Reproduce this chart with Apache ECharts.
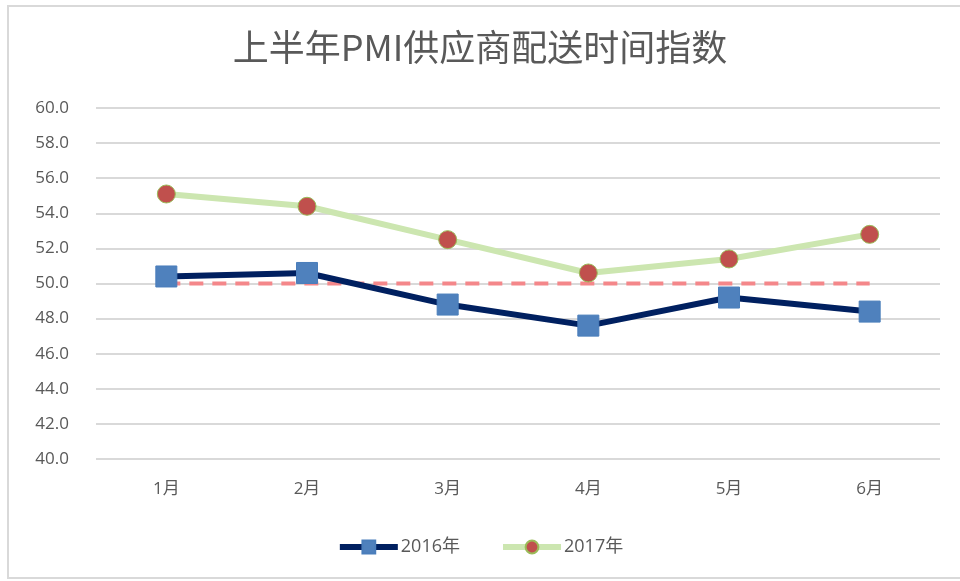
<!DOCTYPE html>
<html><head><meta charset="utf-8">
<script src="https://cdn.jsdelivr.net/npm/echarts@6/dist/echarts.min.js"></script>
<style>html,body{margin:0;padding:0;background:#fff}#c{width:960px;height:581px}</style>
</head><body><div id="c"></div>
<script>
const categories = ['1月','2月','3月','4月','5月','6月'];
const series2016 = [50.4, 50.6, 48.8, 47.6, 49.2, 48.4];
const series2017 = [55.1, 54.4, 52.5, 50.6, 51.4, 52.8];
const threshold = [50, 50, 50, 50, 50, 50];
const titleText = '上半年PMI供应商配送时间指数';
const font = '"Open Sans","Noto Sans CJK SC",sans-serif';
const chart = echarts.init(document.getElementById('c'));
chart.setOption({
  backgroundColor: '#fff',
  animation: false,
  graphic: [{type:'rect', shape:{x:8,y:6,width:970,height:572}, style:{fill:'none', stroke:'#d9d9d9', lineWidth:2}, silent:true}],
  title: {text: titleText, left: 'center', top: 24, textStyle:{fontSize:36, fontWeight:'normal', color:'#595959', fontFamily:'"Noto Sans CJK SC",sans-serif'}},
  legend: {bottom: 20, left: 'center', itemWidth: 58, itemHeight: 16, itemGap: 40, textStyle:{fontSize:18, color:'#595959', fontFamily:font, padding:[0,0,0,-2]},
    data:[{name:'2016年', lineStyle:{width:6}}, {name:'2017年', lineStyle:{width:6}}]},
  grid: {left: 96, right: 20, top: 108, bottom: 122, containLabel: false},
  xAxis: {type:'category', data: categories, boundaryGap: true,
    axisLine:{show:false}, axisTick:{show:false},
    axisLabel:{fontSize:17, color:'#595959', margin:22, fontFamily:font}},
  yAxis: {type:'value', min:40, max:60, interval:2,
    axisLine:{show:false}, axisTick:{show:false},
    axisLabel:{fontSize:17, color:'#595959', margin:27, fontFamily:font, formatter: v => v.toFixed(1)},
    splitLine:{lineStyle:{color:'#d9d9d9', width:2}}},
  series: [
    {name:'threshold', type:'line', data: threshold, symbol:'none', z:1,
      lineStyle:{color:'#f4878a', width:4, type:[14,9]}, silent:true},
    {name:'2016年', type:'line', data: series2016, symbol:'rect', symbolSize:21, z:3,
      lineStyle:{color:'#002060', width:6}, itemStyle:{color:'#4f81bd', borderColor:'#4a7ebb', borderWidth:1}},
    {name:'2017年', type:'line', data: series2017, symbol:'circle', symbolSize:18, z:2,
      lineStyle:{color:'#cce6b0', width:6}, itemStyle:{color:'#c0504d', borderColor:'#9bbb59', borderWidth:1}}
  ]
});
</script></body></html>
